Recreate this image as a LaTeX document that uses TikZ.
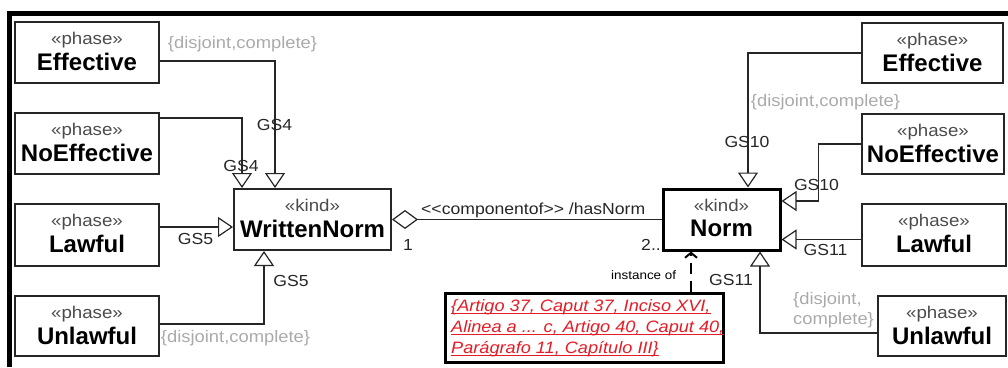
\documentclass[tikz,border=0pt]{standalone}
\usepackage{fontspec}
\setmainfont{Liberation Sans}
\newfontfamily\widesans[FakeStretch=1.1]{Liberation Sans}
\usetikzlibrary{arrows.meta,calc}
\definecolor{notered}{RGB}{228,28,38}
\definecolor{consgray}{RGB}{170,170,170}
\newcommand\ubox[7]{%
  \node[box,#7, minimum width=#3pt, minimum height=#4pt] (#1) at (#2) {};
  \node[stereo, anchor=base] (#1-s) at ($(#1.north)+(0,23.5)$) {«#5»};
  \node[ttl, anchor=base] (#1-t) at ($(#1.north)+(0,49)$) {#6};
}
\begin{document}
\begin{tikzpicture}[x=1pt,y=-1pt,
  box/.style={draw=black!85, line width=1.3pt, fill=white, inner sep=0pt},
  stereo/.style={font=\widesans\fontsize{17}{18}\selectfont, text=black!70, inner sep=0pt},
  ttl/.style={font=\bfseries\fontsize{24}{26}\selectfont, text=black, inner sep=0pt},
  gs/.style={font=\widesans\fontsize{16}{18}\selectfont, text=black!85, inner sep=0pt},
  cons/.style={font=\widesans\fontsize{16.7}{20}\selectfont, text=consgray, inner sep=0pt},
  gen/.style={draw=black!85, line width=1.2pt, -{Triangle[open, length=15pt, width=20pt, fill=white]}},
  notetxt/.style={font=\widesans\itshape\fontsize{16.5}{20}\selectfont, text=notered, inner sep=0pt, anchor=base west},
  small/.style={font=\widesans\fontsize{16}{18}\selectfont, text=black!85, inner sep=0pt}
]
\useasboundingbox (0,0) rectangle (1008,367);
% frame
\draw[line width=5pt, black] (1008,13) -- (9.5,13) -- (9.5,367);

% left boxes
\ubox{EffL}{87,52.5}{144}{61}{phase}{Effective}{}
\ubox{NoEffL}{87,143.5}{144}{61}{phase}{NoEffective}{}
\ubox{LawL}{87,235}{144}{62}{phase}{Lawful}{}
\ubox{UnlL}{87,326}{144}{60}{phase}{Unlawful}{}
\ubox{WN}{312.5,219.5}{157}{61}{kind}{WrittenNorm}{line width=2pt}
% right boxes
\ubox{Norm}{721.5,219.5}{117}{61}{kind}{Norm}{line width=3pt, draw=black}
\ubox{EffR}{932.5,53}{141}{60}{phase}{Effective}{}
\ubox{NoEffR}{933,144}{142}{60}{phase}{NoEffective}{}
\ubox{LawR}{934,235}{144}{62}{phase}{Lawful}{}
\ubox{UnlR}{942,326}{128}{60}{phase}{Unlawful}{}

% note
\node[draw=black, line width=3pt, fill=white, minimum width=278pt, minimum height=69pt, inner sep=0pt] (note) at (584,327.5) {};
\node[notetxt] (n1) at (451,311) {\{Artigo 37, Caput 37, Inciso XVI,};
\node[notetxt] (n2) at (451,332) {Alinea a ... c, Artigo 40, Caput 40,};
\node[notetxt] (n3) at (451,353) {Parágrafo 11, Capítulo III\}};
\foreach \n in {n1,n2,n3}{
  \draw[notered, line width=1pt] ([yshift=-2pt]\n.base west) -- ([yshift=-2pt]\n.base east);
}

% left generalizations
\draw[gen] ([yshift=-8.5pt]EffL.east) -| ([xshift=-37.5pt]WN.north);
\draw[gen] ([yshift=25.5pt]NoEffL.east) -| ([xshift=-70.5pt]WN.north);
\draw[gen] ([yshift=8pt]LawL.east) -- ([yshift=-7.5pt]WN.west);
\draw[gen] ([yshift=2pt]UnlL.east) -| ([xshift=-48.5pt]WN.south);

% right generalizations
\draw[gen] (EffR.west) -| ([xshift=26.5pt]Norm.north);
\draw[gen] (NoEffR.west) -| ([xshift=37pt,yshift=18.5pt]Norm.east) -- ([yshift=18.5pt]Norm.east);
\draw[gen] ([yshift=-4.5pt]LawR.west) -- ([yshift=-20pt]Norm.east);
\draw[gen] ([yshift=-7pt]UnlR.west) -| ([xshift=38.5pt]Norm.south);

% aggregation
\draw[draw=black!85, line width=1.2pt, {Diamond[open, length=26pt, width=19pt, fill=white]}-] (WN.east) -- (Norm.west);
\node[small, anchor=base west] (assoc) at (421,214.5) {<<componentof>> /hasNorm};
\node[small, anchor=base] (m1) at (408,250) {1};
\node[small, anchor=base east] (m2) at (661,250) {2..};

% instance of
\draw[black, line width=2pt, dash pattern=on 11pt off 7pt, -{Straight Barb[length=5pt, width=12pt]}] ([xshift=107pt]note.north) -- ([xshift=-30.5pt]Norm.south);
\node[font=\widesans\fontsize{12.2}{14}\selectfont, inner sep=0pt, anchor=base west] (inst) at (611,279) {instance of};

% GS labels
\node[gs] (g4a) at (274.5,124.5) {GS4};
\node[gs] (g4b) at (241,166) {GS4};
\node[gs] (g5a) at (195.5,239) {GS5};
\node[gs] (g5b) at (291,281) {GS5};
\node[gs] (g10a) at (747,141.5) {GS10};
\node[gs] (g10b) at (816.5,185) {GS10};
\node[gs] (g11a) at (825.5,250) {GS11};
\node[gs] (g11b) at (731,279.5) {GS11};

% constraints
\node[cons] (c1) at (242.5,44.5) {\{disjoint,complete\}};
\node[cons] (c2) at (235.5,338) {\{disjoint,complete\}};
\node[cons] (c3) at (825.5,102) {\{disjoint,complete\}};
\node[cons, anchor=west] (c4) at (793,300.5) {\{disjoint,};
\node[cons, anchor=west] (c5) at (793,320.5) {complete\}};
\end{tikzpicture}
\end{document}
